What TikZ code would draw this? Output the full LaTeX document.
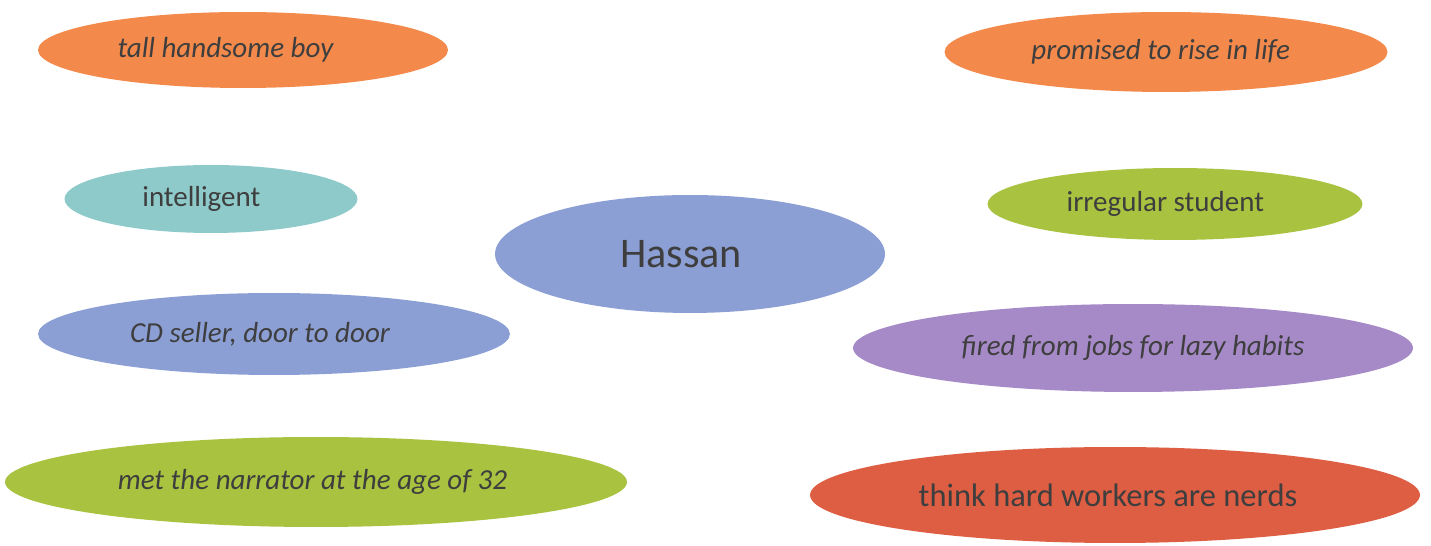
\documentclass[tikz,border=0pt]{standalone}
\usepackage{fontspec}
\setmainfont{Carlito}
\usetikzlibrary{shapes.geometric}
\definecolor{corange}{HTML}{F38A4C}
\definecolor{cteal}{HTML}{8FCACB}
\definecolor{cgreen}{HTML}{A9C23F}
\definecolor{cblue}{HTML}{8C9FD5}
\definecolor{cpurple}{HTML}{A68AC8}
\definecolor{cred}{HTML}{DE5E44}
\definecolor{ctext}{HTML}{3E3E3E}
\tikzset{
  bubble/.style={ellipse, inner sep=0pt, text=ctext, font=\fontsize{16.5}{18}\selectfont},
  itbubble/.style={bubble, font=\fontsize{16.5}{18}\selectfont\itshape},
}
\begin{document}
\begin{tikzpicture}[x=0.02cm,y=-0.02cm]
\useasboundingbox (0,0) rectangle (1431,546);
\fill[white] (0,0) rectangle (1431,546);
\node[itbubble, fill=corange, minimum width=8.2cm, minimum height=1.52cm] (tall) at (243,50) {\kern-20pt tall handsome boy};
\node[itbubble, fill=corange, minimum width=8.86cm, minimum height=1.6cm] (prom) at (1166,52) {\kern-6pt promised to rise in life};
\node[bubble, fill=cteal, minimum width=5.86cm, minimum height=1.36cm] (intel) at (211,199) {\kern-11pt intelligent};
\node[bubble, fill=cgreen, minimum width=7.5cm, minimum height=1.44cm] (irreg) at (1175,204) {\kern-11pt irregular student};
\node[bubble, fill=cblue, minimum width=7.8cm, minimum height=2.36cm, font=\fontsize{24}{28}\selectfont] (hassan) at (690,254) {\kern-10pt Hassan};
\node[itbubble, fill=cblue, minimum width=9.44cm, minimum height=1.64cm] (cd) at (274,334) {\kern-16pt CD seller, door to door};
\node[itbubble, fill=cpurple, minimum width=11.2cm, minimum height=1.76cm] (fired) at (1133,348) {fired from jobs for lazy habits};
\node[itbubble, fill=cgreen, minimum width=12.44cm, minimum height=1.8cm] (met) at (316,482) {\kern-4pt met the narrator at the age of 32};
\node[bubble, fill=cred, minimum width=12.2cm, minimum height=1.92cm, font=\fontsize{18.5}{20}\selectfont] (think) at (1115,495) {\kern-8pt think hard workers are nerds};
\end{tikzpicture}
\end{document}
